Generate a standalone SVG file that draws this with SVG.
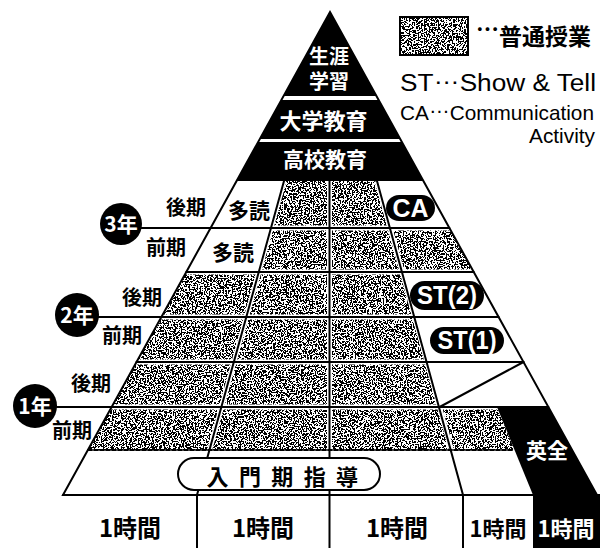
<svg xmlns="http://www.w3.org/2000/svg" width="600" height="548" viewBox="0 0 600 548">
<defs>
<filter id="grain" x="0" y="0" width="600" height="548" filterUnits="userSpaceOnUse" color-interpolation-filters="sRGB">
  <feTurbulence type="fractalNoise" baseFrequency="0.65" numOctaves="2" seed="4" result="n"/>
  <feColorMatrix in="n" type="matrix" values="4 0 0 0 -1.5  4 0 0 0 -1.5  4 0 0 0 -1.5  0 0 0 0 1" result="c"/>
  <feComponentTransfer in="c" result="b">
    <feFuncR type="discrete" tableValues="0 1"/>
    <feFuncG type="discrete" tableValues="0 1"/>
    <feFuncB type="discrete" tableValues="0 1"/>
  </feComponentTransfer>
  <feComposite in="b" in2="SourceGraphic" operator="in"/>
</filter>
<style>
.ln{stroke:#000;stroke-width:2;fill:none;stroke-linecap:round}
.halo{stroke:#fff;stroke-width:5;fill:none}
.jp{font-family:"Noto Sans CJK JP","Noto Sans CJK SC",sans-serif;font-weight:700;fill:#000}
.en{font-family:"Liberation Sans","Noto Sans CJK JP",sans-serif;fill:#000}
.w{fill:#fff}
.mid{text-anchor:middle}
.pill{fill:#000}
</style>
</defs>
<rect width="600" height="548" fill="#fff"/>

<g id="textured-cells" filter="url(#grain)">
  <rect x="400" y="17" width="68" height="38" fill="#000"/>
  <polygon points="284,181 377,181 390,228 271,228" fill="#000"/>
  <polygon points="271,228 449.4,228 473.7,272 258.8,272" fill="#000"/>
  <polygon points="186.3,272 402.2,272 439.6,407 111.6,407" fill="#000"/>
  <polygon points="111.6,407 497,407 514.6,450 87.9,450" fill="#000"/>
</g>

<g id="cell-margins">
  <line class="halo" x1="240" y1="228" x2="449" y2="228"/>
  <line class="halo" x1="186" y1="272" x2="473" y2="272"/>
  <line class="halo" x1="161" y1="317" x2="410" y2="317"/>
  <line class="halo" x1="136" y1="362" x2="425" y2="362"/>
  <line class="halo" x1="111" y1="407" x2="497" y2="407"/>
  <polyline class="halo" points="284,181 209.6,450"/>
  <line class="halo" x1="329.5" y1="181" x2="329.5" y2="450"/>
  <polyline class="halo" points="377,181 451.4,450"/>
</g>

<g id="top-levels">
  <polygon points="330,12 423.4,181 236.6,181" fill="#000"/>
  <line x1="280" y1="98" x2="380" y2="98" stroke="#fff" stroke-width="4"/>
  <line x1="256" y1="140.5" x2="404" y2="140.5" stroke="#fff" stroke-width="3"/>
</g>

<g id="eizen-block">
  <polygon points="497,407 548.4,407 597,495 533,495" fill="#000"/>
  <rect x="533" y="495" width="67" height="53" fill="#000"/>
</g>

<g id="connectors">
  <polygon class="ln" points="330,12 597,495 63,495" stroke-width="2.5" stroke-linejoin="miter"/>
  <line class="ln" x1="63" y1="495" x2="600" y2="495"/>
  <line class="ln" x1="141" y1="228" x2="449.4" y2="228"/>
  <line class="ln" x1="186.3" y1="272" x2="473.7" y2="272"/>
  <line class="ln" x1="98" y1="317" x2="498.6" y2="317"/>
  <line class="ln" x1="136.5" y1="362" x2="523.5" y2="362"/>
  <line class="ln" x1="56" y1="407" x2="548.4" y2="407"/>
  <line class="ln" x1="88" y1="450" x2="514" y2="450" stroke-width="1.5" stroke-dasharray="4 2"/>
  <polyline class="ln" points="284,181 197,495 197,548"/>
  <line class="ln" x1="329.5" y1="181" x2="329.5" y2="548"/>
  <polyline class="ln" points="377,181 463,495 463,548"/>
  <line class="ln" x1="439.6" y1="407" x2="523.5" y2="362"/>
</g>

<g id="intro-pill">
  <rect x="178" y="458" width="202" height="32" rx="16" fill="#fff" stroke="#000" stroke-width="2"/>
  <text class="jp" x="206.5" y="485" font-size="22" font-weight="500" letter-spacing="10.4">入門期指導</text>
</g>

<g id="top-labels">
  <text class="jp w mid" x="329" y="64" font-size="20"><tspan x="329" y="64">生涯</tspan><tspan x="329" y="89">学習</tspan></text>
  <text class="jp w mid" x="323.5" y="129" font-size="22">大学教育</text>
  <text class="jp w mid" x="325" y="167" font-size="21">高校教育</text>
</g>

<g id="year3">
  <circle cx="121" cy="224" r="21" fill="#000"/>
  <text class="jp w mid" x="121" y="232" font-size="21">3年</text>
  <text class="jp mid" x="186" y="215" font-size="20">後期</text>
  <text class="jp mid" x="166" y="255" font-size="20">前期</text>
  <text class="jp mid" x="249" y="218" font-size="21" font-weight="500">多読</text>
  <text class="jp mid" x="233" y="260" font-size="21" font-weight="500">多読</text>
</g>

<g id="year2">
  <circle cx="77" cy="315" r="22" fill="#000"/>
  <text class="jp w mid" x="77" y="323" font-size="21">2年</text>
  <text class="jp mid" x="142" y="305" font-size="20">後期</text>
  <text class="jp mid" x="122" y="343" font-size="20">前期</text>
</g>

<g id="year1">
  <circle cx="35" cy="406" r="22" fill="#000"/>
  <text class="jp w mid" x="35" y="414" font-size="21">1年</text>
  <text class="jp mid" x="91" y="391" font-size="20">後期</text>
  <text class="jp mid" x="72" y="438" font-size="20">前期</text>
</g>

<g id="activities">
  <rect class="pill" x="386" y="195" width="49" height="26" rx="13"/>
  <text class="en w mid" x="410.5" y="217" font-size="25" font-weight="700" textLength="36" lengthAdjust="spacingAndGlyphs">CA</text>
  <rect class="pill" x="410" y="281" width="74" height="29" rx="14.5"/>
  <text class="en w mid" x="447" y="304" font-size="25" font-weight="700" textLength="60" lengthAdjust="spacingAndGlyphs">ST(2)</text>
  <rect class="pill" x="430" y="327" width="74" height="27" rx="13.5"/>
  <text class="en w mid" x="467" y="349" font-size="25" font-weight="700" textLength="59" lengthAdjust="spacingAndGlyphs">ST(1)</text>
  <text class="jp w mid" x="547" y="458" font-size="21">英全</text>
</g>

<g id="hours">
  <text class="jp mid" x="130" y="537" font-size="24" font-weight="500">1時間</text>
  <text class="jp mid" x="263" y="537" font-size="24" font-weight="500">1時間</text>
  <text class="jp mid" x="397" y="537" font-size="24" font-weight="500">1時間</text>
  <text class="jp mid" x="498" y="537" font-size="22" font-weight="500">1時間</text>
  <text class="jp w mid" x="566" y="537" font-size="22" font-weight="500">1時間</text>
</g>

<g id="legend">
  <rect x="400" y="17" width="68" height="38" fill="none" stroke="#000" stroke-width="2"/>
  <text class="jp" x="476" y="45" font-size="23" font-weight="500"><tspan baseline-shift="7">…</tspan><tspan baseline-shift="0">普通授業</tspan></text>
  <text class="en" x="400" y="91" font-size="23" textLength="196" lengthAdjust="spacingAndGlyphs">ST<tspan baseline-shift="7">…</tspan><tspan baseline-shift="0">Show &amp; Tell</tspan></text>
  <text class="en" x="400" y="120" font-size="21" textLength="194" lengthAdjust="spacingAndGlyphs">CA<tspan baseline-shift="7">…</tspan><tspan baseline-shift="0">Communication</tspan></text>
  <text class="en" x="595" y="143" font-size="21" text-anchor="end" textLength="66" lengthAdjust="spacingAndGlyphs">Activity</text>
</g>
</svg>
